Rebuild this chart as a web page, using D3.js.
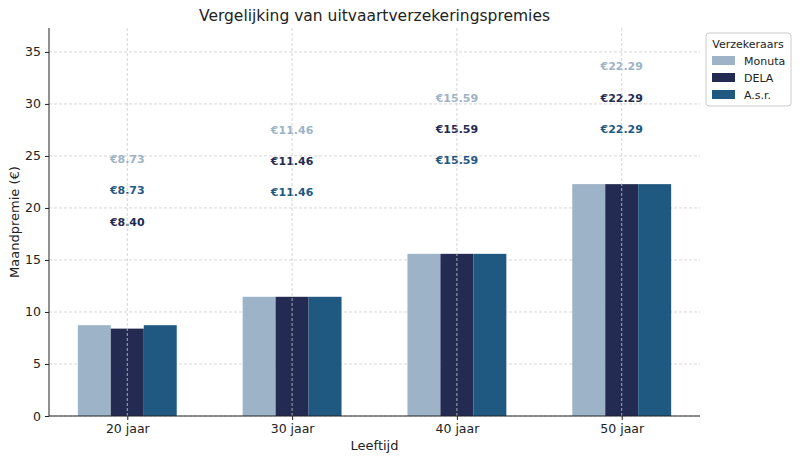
<!DOCTYPE html>
<html><head><meta charset="utf-8">
<script src="https://cdn.jsdelivr.net/npm/d3@7"></script>
<style>body{margin:0;background:#fff;font-family:"DejaVu Sans",sans-serif}</style>
</head><body><svg id="c" width="800" height="461"></svg>
<script>
var ages = ["20 jaar", "30 jaar", "40 jaar", "50 jaar"];
var series = ["Monuta", "DELA", "A.s.r."];
var colors = ["#9cb3c8", "#232b52", "#1f5982"];
var monuta = [8.73, 11.46, 15.59, 22.29];
var dela = [8.40, 11.46, 15.59, 22.29];
var asr = [8.73, 11.46, 15.59, 22.29];
// annotation heights (data units) as placed in the picture
var monutaLabelY = [24.7, 27.5, 30.6, 33.6];
var delaLabelY = [18.6, 24.5, 27.6, 30.6];
var asrLabelY = [21.7, 21.5, 24.6, 27.6];
var yTicks = [0, 5, 10, 15, 20, 25, 30, 35];

var values = [monuta, dela, asr];
var labelYs = [monutaLabelY, delaLabelY, asrLabelY];

var svg = d3.select("#c");
var mLeft = 49, mRight = 700, mTop = 28, mBottom = 416;

var x = d3.scaleLinear().domain([-0.475, 3.475]).range([mLeft, mRight]);
var y = d3.scaleLinear().domain([0, 37.3]).range([mBottom, mTop]);
var bw = 0.2;

// grid
svg.append("g").selectAll("line").data(yTicks).enter().append("line")
    .attr("x1", mLeft).attr("x2", mRight)
    .attr("y1", function(d) { return y(d); }).attr("y2", function(d) { return y(d); })
    .attr("stroke", "#ccc").attr("stroke-dasharray", "3,2").attr("stroke-width", 0.8);

// bars
series.forEach(function(s, j) {
    svg.append("g").selectAll("rect").data(values[j]).enter().append("rect")
        .attr("x", function(d, i) { return x(i + (j - 1) * bw - bw / 2); })
        .attr("width", x(bw) - x(0))
        .attr("y", function(d) { return y(d); })
        .attr("height", function(d) { return mBottom - y(d); })
        .attr("fill", colors[j]);
    svg.append("g").selectAll("text").data(values[j]).enter().append("text")
        .attr("x", function(d, i) { return x(i); })
        .attr("y", function(d, i) { return y(labelYs[j][i]); })
        .attr("dy", "0.35em")
        .attr("text-anchor", "middle")
        .attr("font-size", "11px").attr("font-weight", "bold")
        .attr("fill", colors[j])
        .text(function(d) { return "€" + d.toFixed(2); });
});

// vertical grid on top
svg.append("g").selectAll("line").data(ages).enter().append("line")
    .attr("x1", function(d, i) { return x(i); }).attr("x2", function(d, i) { return x(i); })
    .attr("y1", mTop).attr("y2", mBottom)
    .attr("stroke", "#ccc").attr("stroke-dasharray", "3,2").attr("stroke-width", 0.8);

// axes
var yAxis = d3.axisLeft(y).tickValues(yTicks).tickSize(4).tickPadding(4);
var gy = svg.append("g").attr("transform", "translate(" + mLeft + ",0)").call(yAxis);
var xAxis = d3.axisBottom(x).tickValues([0, 1, 2, 3]).tickSize(4).tickPadding(4)
    .tickFormat(function(d) { return ages[d]; });
var gx = svg.append("g").attr("transform", "translate(0," + mBottom + ")").call(xAxis);
[gx, gy].forEach(function(g) {
    g.selectAll("text").attr("font-size", "12.5px").attr("font-family", "DejaVu Sans").attr("fill", "#222");
    g.selectAll("line").attr("stroke", "#222");
    g.select(".domain").attr("stroke", "#222");
});
gx.select(".domain").attr("d", "M" + mLeft + ",0H" + mRight);
gy.select(".domain").attr("d", "M0," + mBottom + "V" + mTop);

svg.append("text").attr("x", (mLeft + mRight) / 2).attr("y", 21).attr("text-anchor", "middle")
    .attr("font-size", "15.5px").attr("fill", "#222").text("Vergelijking van uitvaartverzekeringspremies");
svg.append("text").attr("x", (mLeft + mRight) / 2).attr("y", 450).attr("text-anchor", "middle")
    .attr("font-size", "13px").attr("fill", "#222").text("Leeftijd");
svg.append("text").attr("transform", "translate(19," + ((mTop + mBottom) / 2) + ") rotate(-90)")
    .attr("text-anchor", "middle").attr("font-size", "13px").attr("fill", "#222").text("Maandpremie (€)");

// legend
var lg = svg.append("g").attr("transform", "translate(706,33)");
lg.append("rect").attr("width", 85).attr("height", 73).attr("rx", 3)
    .attr("fill", "#fff").attr("stroke", "#ccc");
lg.append("text").attr("x", 42).attr("y", 15).attr("text-anchor", "middle")
    .attr("font-size", "11px").attr("fill", "#222").text("Verzekeraars");
series.forEach(function(s, j) {
    lg.append("rect").attr("x", 6).attr("y", 23 + j * 17).attr("width", 23).attr("height", 9).attr("fill", colors[j]);
    lg.append("text").attr("x", 38).attr("y", 32 + j * 17).attr("font-size", "11px").attr("fill", "#222").text(s);
});
</script></body></html>
